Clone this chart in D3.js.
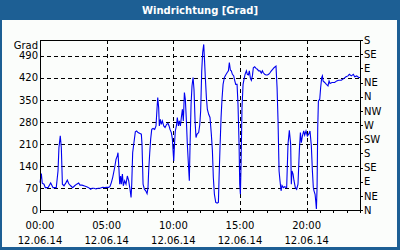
<!DOCTYPE html>
<html>
<head>
<meta charset="utf-8">
<script src="https://cdn.jsdelivr.net/npm/d3@7"></script>
<style>
  html, body { margin: 0; padding: 0; background: #1d5f94; }
  svg { display: block; font-family: "DejaVu Sans", Verdana, sans-serif; }
  .grid line { stroke: #000; stroke-dasharray: 4,3; shape-rendering: crispEdges; }
  .axis path, .axis line { stroke: #000; shape-rendering: crispEdges; }
  .axis text { font-size: 10px; fill: #000; font-family: "DejaVu Sans", Verdana, sans-serif; }
</style>
</head>
<body>
<div id="chart"></div>
<script>
'use strict';

// Messzeit in Stunden (12.06.14) und Windrichtung in Grad
var stunden = [
  0.00, 0.10, 0.17, 0.30, 0.40, 0.60, 0.80, 0.98, 1.22, 1.35, 1.42, 1.52, 1.60, 1.68, 1.80, 1.95,
  2.05, 2.15, 2.30, 2.45, 2.60, 2.75, 2.90, 3.00, 3.15, 3.35, 3.50, 3.65, 3.80, 3.90, 4.05, 4.20,
  4.35, 4.50, 4.70, 4.85, 5.00, 5.15, 5.25, 5.35, 5.45, 5.60, 5.70, 5.80, 5.85, 5.92, 5.98, 6.05,
  6.10, 6.18, 6.25, 6.35, 6.45, 6.55, 6.65, 6.75, 6.83, 6.88, 6.95, 7.03, 7.15, 7.25, 7.35, 7.50,
  7.60, 7.65, 7.73, 7.83, 7.93, 8.03, 8.10, 8.15, 8.23, 8.30, 8.38, 8.48, 8.60, 8.70, 8.78, 8.83,
  8.90, 8.95, 9.03, 9.10, 9.18, 9.28, 9.38, 9.50, 9.60, 9.68, 9.75, 9.85, 9.93, 9.98, 10.03, 10.10,
  10.15, 10.23, 10.30, 10.38, 10.45, 10.53, 10.60, 10.68, 10.75, 10.83, 10.90, 10.98, 11.05, 11.13, 11.20, 11.25,
  11.33, 11.40, 11.48, 11.55, 11.63, 11.70, 11.78, 11.90, 11.98, 12.05, 12.13, 12.20, 12.28, 12.33, 12.40, 12.48,
  12.55, 12.65, 12.75, 12.85, 12.93, 13.00, 13.08, 13.18, 13.28, 13.38, 13.43, 13.50, 13.58, 13.65, 13.73, 13.83,
  13.93, 14.03, 14.13, 14.20, 14.28, 14.35, 14.43, 14.53, 14.60, 14.68, 14.78, 14.85, 14.93, 14.98, 15.03, 15.08,
  15.15, 15.23, 15.30, 15.38, 15.48, 15.55, 15.63, 15.70, 15.78, 15.85, 15.93, 16.00, 16.10, 16.20, 16.30, 16.40,
  16.50, 16.60, 16.68, 16.75, 16.85, 16.95, 17.05, 17.15, 17.25, 17.35, 17.45, 17.55, 17.70, 17.78, 17.85, 17.93,
  18.00, 18.08, 18.15, 18.25, 18.35, 18.50, 18.60, 18.70, 18.80, 18.85, 18.90, 18.98, 19.05, 19.15, 19.25, 19.35,
  19.45, 19.53, 19.60, 19.68, 19.78, 19.85, 19.95, 20.05, 20.15, 20.25, 20.35, 20.43, 20.50, 20.55, 20.63, 20.68,
  20.73, 20.78, 20.83, 20.88, 20.98, 21.05, 21.13, 21.18, 21.23, 21.35, 21.48, 21.60, 21.68, 21.75, 21.90, 22.10,
  22.25, 22.40, 22.60, 22.80, 22.95, 23.10, 23.20, 23.35, 23.50, 23.60, 23.75, 23.90, 24.00
];

var grad = [
  87, 116, 85, 82, 71, 71, 86, 71, 71, 124, 198, 236, 198, 82, 77, 87,
  95, 84, 77, 71, 77, 82, 86, 79, 79, 76, 74, 71, 66, 69, 69, 67,
  69, 69, 72, 71, 72, 72, 75, 87, 103, 135, 161, 172, 182, 130, 82, 108,
  82, 114, 77, 93, 82, 108, 93, 66, 40, 82, 182, 209, 248, 251, 246, 243,
  241, 209, 82, 66, 61, 52, 71, 124, 182, 225, 256, 259, 256, 267, 325, 357,
  325, 267, 288, 272, 283, 267, 262, 272, 275, 267, 256, 246, 225, 188, 156, 219,
  251, 267, 294, 267, 283, 267, 294, 320, 283, 373, 352, 283, 209, 146, 93, 198,
  336, 394, 421, 383, 283, 230, 241, 246, 270, 315, 442, 500, 526, 484, 421, 357,
  320, 304, 294, 241, 188, 103, 50, 24, 22, 24, 103, 198, 294, 352, 399, 421,
  429, 436, 442, 468, 444, 442, 431, 426, 412, 399, 399, 336, 209, 82, 50, 146,
  325, 399, 415, 431, 442, 431, 429, 442, 418, 412, 426, 452, 455, 450, 447, 442,
  442, 435, 442, 436, 431, 429, 429, 431, 436, 442, 447, 452, 457, 389, 288, 124,
  93, 61, 78, 71, 74, 71, 209, 253, 209, 82, 124, 114, 93, 71, 66, 82,
  188, 246, 214, 235, 251, 238, 251, 235, 241, 251, 204, 124, 71, 61, 50, 29,
  3, 71, 262, 346, 352, 389, 421, 426, 410, 405, 399, 394, 410, 402, 405, 405,
  410, 412, 412, 418, 423, 426, 431, 426, 431, 423, 426, 421, 421
];

var gradTicks   = [0, 70, 140, 210, 280, 350, 420, 490];
var kompass     = ['N', 'NE', 'E', 'SE', 'S', 'SW', 'W', 'NW', 'N', 'NE', 'E', 'SE', 'S'];
var zeitLabels  = [0, 5, 10, 15, 20];
var datum       = '12.06.14';
var titel       = 'Windrichtung [Grad]';
var einheit     = 'Grad';

function windChart()
{
    var scope = this;
    var exports = {};

    scope.width  = 400;
    scope.height = 250;
    scope.margins = {left: 40, top: 40, right: 40, bottom: 40};
    scope.cw = 320;
    scope.ch = 170;

    scope.xScale = undefined;
    scope.yScale = undefined;
    scope.tag = new Date(2014, 5, 12, 0, 0);

    scope.zeit = function(h)
    {
        return new Date(scope.tag.getTime() + h * 3600 * 1000);
    }

    scope.appendSvg = function(div)
    {
        var svg = d3.select(div).append('svg')
            .attr('width', scope.width)
            .attr('height', scope.height);

        // Rahmen + Titelleiste
        svg.append('rect')
            .attr('width', scope.width)
            .attr('height', scope.height)
            .attr('fill', '#1d5f94');

        svg.append('rect')
            .attr('x', 2)
            .attr('y', 20)
            .attr('width', 395)
            .attr('height', 227)
            .attr('fill', '#fbfdfb');

        svg.append('text')
            .attr('x', scope.width / 2)
            .attr('y', 14)
            .attr('text-anchor', 'middle')
            .attr('fill', '#fff')
            .style('font-size', '10px')
            .style('font-weight', 'bold')
            .text(titel);

        return svg;
    }

    scope.createScales = function()
    {
        scope.xScale = d3.scaleTime()
            .domain([scope.zeit(0), scope.zeit(24)])
            .range([0, scope.cw]);

        scope.yScale = d3.scaleLinear()
            .domain([0, 540])
            .range([scope.ch, 0]);
    }

    scope.appendGrid = function(chart)
    {
        var grid = chart.append('g').attr('class', 'grid');

        grid.selectAll('.hline')
            .data(gradTicks.slice(1))
            .enter().append('line')
            .attr('x1', 0)
            .attr('x2', scope.cw)
            .attr('y1', function(d) { return Math.round(scope.yScale(d)) + 0.5; })
            .attr('y2', function(d) { return Math.round(scope.yScale(d)) + 0.5; });

        grid.selectAll('.vline')
            .data(zeitLabels.slice(1))
            .enter().append('line')
            .attr('y1', 0)
            .attr('y2', scope.ch)
            .attr('x1', function(d) { return Math.round(scope.xScale(scope.zeit(d))) + 0.5; })
            .attr('x2', function(d) { return Math.round(scope.xScale(scope.zeit(d))) + 0.5; });
    }

    scope.appendAxes = function(chart)
    {
        var left = chart.append('g')
            .attr('class', 'axis')
            .call(d3.axisLeft(scope.yScale).tickValues(gradTicks).tickSize(0).tickPadding(2));
        left.select('.domain').remove();

        left.append('text')
            .attr('x', -2)
            .attr('y', 8.5)
            .attr('text-anchor', 'end')
            .text(einheit);

        var right = chart.append('g')
            .attr('class', 'axis')
            .attr('transform', 'translate(' + scope.cw + ',0)')
            .call(d3.axisRight(scope.yScale)
                .tickValues(d3.range(0, 541, 45))
                .tickSize(3)
                .tickPadding(1)
                .tickFormat(function(d, i) { return kompass[i]; }));
        right.select('.domain').remove();

        var bottom = chart.append('g')
            .attr('class', 'axis')
            .attr('transform', 'translate(0,' + scope.ch + ')')
            .call(d3.axisBottom(scope.xScale)
                .ticks(d3.timeHour.every(1))
                .tickSize(3)
                .tickFormat(''));
        bottom.select('.domain').remove();

        var fmt = d3.timeFormat('%H:%M');
        var lab = bottom.selectAll('.zeitlabel')
            .data(zeitLabels)
            .enter().append('g')
            .attr('class', 'zeitlabel')
            .attr('transform', function(d) { return 'translate(' + scope.xScale(scope.zeit(d)) + ',0)'; });

        lab.append('text')
            .attr('y', 19)
            .attr('text-anchor', 'middle')
            .text(function(d) { return fmt(scope.zeit(d)); });

        lab.append('text')
            .attr('y', 34)
            .attr('text-anchor', 'middle')
            .text(datum);

        // Plotrahmen
        chart.append('rect')
            .attr('x', 0.5)
            .attr('y', 0.5)
            .attr('width', scope.cw)
            .attr('height', scope.ch)
            .attr('fill', 'none')
            .attr('stroke', '#000')
            .style('shape-rendering', 'crispEdges');
    }

    scope.appendLine = function(chart)
    {
        var werte = stunden.map(function(h, i) { return {zeit: scope.zeit(h), grad: grad[i]}; });

        var line = d3.line()
            .x(function(d) { return scope.xScale(d.zeit); })
            .y(function(d) { return scope.yScale(d.grad); });

        chart.append('path')
            .datum(werte)
            .attr('d', line)
            .attr('fill', 'none')
            .attr('stroke', '#0000f0')
            .attr('stroke-width', 1.1);
    }

    //------------- exported API -----------------------------------

    exports.run = function(div)
    {
        var svg = scope.appendSvg(div);
        var chart = svg.append('g')
            .attr('transform', 'translate(' + scope.margins.left + ',' + scope.margins.top + ')');

        scope.createScales();
        scope.appendGrid(chart);
        scope.appendLine(chart);
        scope.appendAxes(chart);
    }

    return exports;
}

windChart.call({}).run('#chart');
</script>
</body>
</html>
